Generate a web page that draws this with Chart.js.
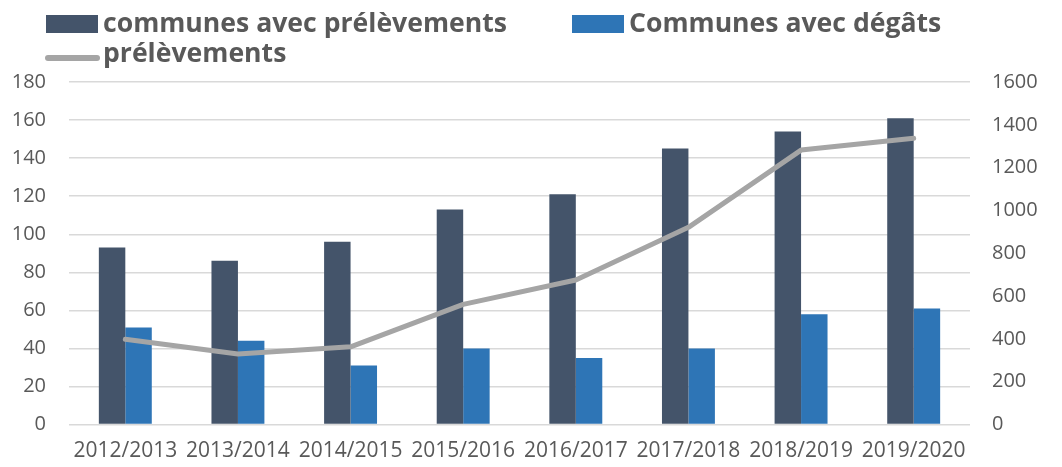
<!DOCTYPE html>
<html lang="fr">
<head>
<meta charset="utf-8">
<script src="https://cdn.jsdelivr.net/npm/chart.js@4.4.1/dist/chart.umd.min.js"></script>
<style>
  html, body { margin: 0; padding: 0; background: #fff; }
  #wrap { position: relative; width: 1062px; height: 467px; overflow: hidden; }
  #chart { position: absolute; left: 0; top: 0; }
  .lg-item { position: absolute; font-family: "Open Sans", sans-serif; font-weight: 700;
             font-size: 26.6px; line-height: 30px; color: #595959; white-space: nowrap; }
  .lg-box  { position: absolute; width: 52px; height: 18px; }
  .lg-line { position: absolute; width: 55px; height: 6px; border-radius: 3px; background: #A5A5A5; }
</style>
</head>
<body>
<div id="wrap">
  <canvas id="chart" width="1062" height="467"></canvas>
  <div id="legend"></div>
</div>
<script>
const SAISONS      = ["2012/2013", "2013/2014", "2014/2015", "2015/2016", "2016/2017", "2017/2018", "2018/2019", "2019/2020"];
const COMMUNES_PREL = [93, 86, 96, 113, 121, 145, 154, 161];
const COMMUNES_DEG  = [51, 44, 31, 40, 35, 40, 58, 61];
const PRELEVEMENTS  = [398, 329, 363, 561, 675, 921, 1282, 1337];
const TICKS_GAUCHE  = [0, 20, 40, 60, 80, 100, 120, 140, 160, 180];
const TICKS_DROITE  = [0, 200, 400, 600, 800, 1000, 1200, 1400, 1600];

const COL_PREL = "#44546A";
const COL_DEG  = "#2E75B6";
const COL_LINE = "#A5A5A5";
const TXT      = "#595959";

// legende en HTML (positions calées sur la capture)
document.getElementById("legend").innerHTML = `
  <div class="lg-box" style="left:46px;top:15px;background:${COL_PREL}"></div>
  <div class="lg-item" style="left:103px;top:7px">communes avec prélèvements</div>
  <div class="lg-box" style="left:572px;top:15px;background:${COL_DEG}"></div>
  <div class="lg-item" style="left:629px;top:7px">Communes avec dégâts</div>
  <div class="lg-line" style="left:45px;top:55px"></div>
  <div class="lg-item" style="left:103px;top:37px">prélèvements</div>
`;

const tickFont = { family: "'Open Sans', sans-serif", size: 21 };
const axisFont = { family: "'Open Sans', sans-serif", size: 20 };

new Chart(document.getElementById("chart"), {
  type: "bar",
  data: {
    labels: SAISONS,
    datasets: [
      {
        type: "line",
        label: "prélèvements",
        data: PRELEVEMENTS,
        yAxisID: "y2",
        borderColor: COL_LINE,
        borderWidth: 5,
        pointRadius: 0,
        tension: 0,
        borderCapStyle: "round",
        borderJoinStyle: "round",
        order: 0,
      },
      {
        label: "communes avec prélèvements",
        data: COMMUNES_PREL,
        backgroundColor: COL_PREL,
        yAxisID: "y",
        order: 1,
      },
      {
        label: "Communes avec dégâts",
        data: COMMUNES_DEG,
        backgroundColor: COL_DEG,
        yAxisID: "y",
        order: 1,
      },
    ],
  },
  options: {
    responsive: false,
    animation: false,
    layout: { padding: { top: 82, left: 0, right: 0, bottom: 0 } },
    datasets: { bar: { categoryPercentage: 0.47, barPercentage: 1 } },
    plugins: { legend: { display: false }, tooltip: { enabled: false } },
    scales: {
      x: {
        grid: { display: false, drawTicks: false },
        border: { display: false },
        ticks: { color: TXT, font: tickFont, padding: 14, maxRotation: 0, autoSkip: false },
        afterFit: s => { s.height = 42.5; },
      },
      y: {
        position: "left",
        min: 0, max: 180,
        afterBuildTicks: s => { s.ticks = TICKS_GAUCHE.map(v => ({ value: v })); },
        grid: { color: "#D9D9D9", lineWidth: 1.4, drawTicks: false },
        border: { display: false },
        ticks: { color: TXT, font: axisFont, padding: 23, callback: v => String(v) },
        afterFit: s => { s.width = 69; },
      },
      y2: {
        position: "right",
        min: 0, max: 1600,
        afterBuildTicks: s => { s.ticks = TICKS_DROITE.map(v => ({ value: v })); },
        grid: { display: false, drawTicks: false },
        border: { display: false },
        ticks: { color: TXT, font: axisFont, padding: 22, callback: v => String(v) },
        afterFit: s => { s.width = 92; },
      },
    },
  },
});
</script>
</body>
</html>
